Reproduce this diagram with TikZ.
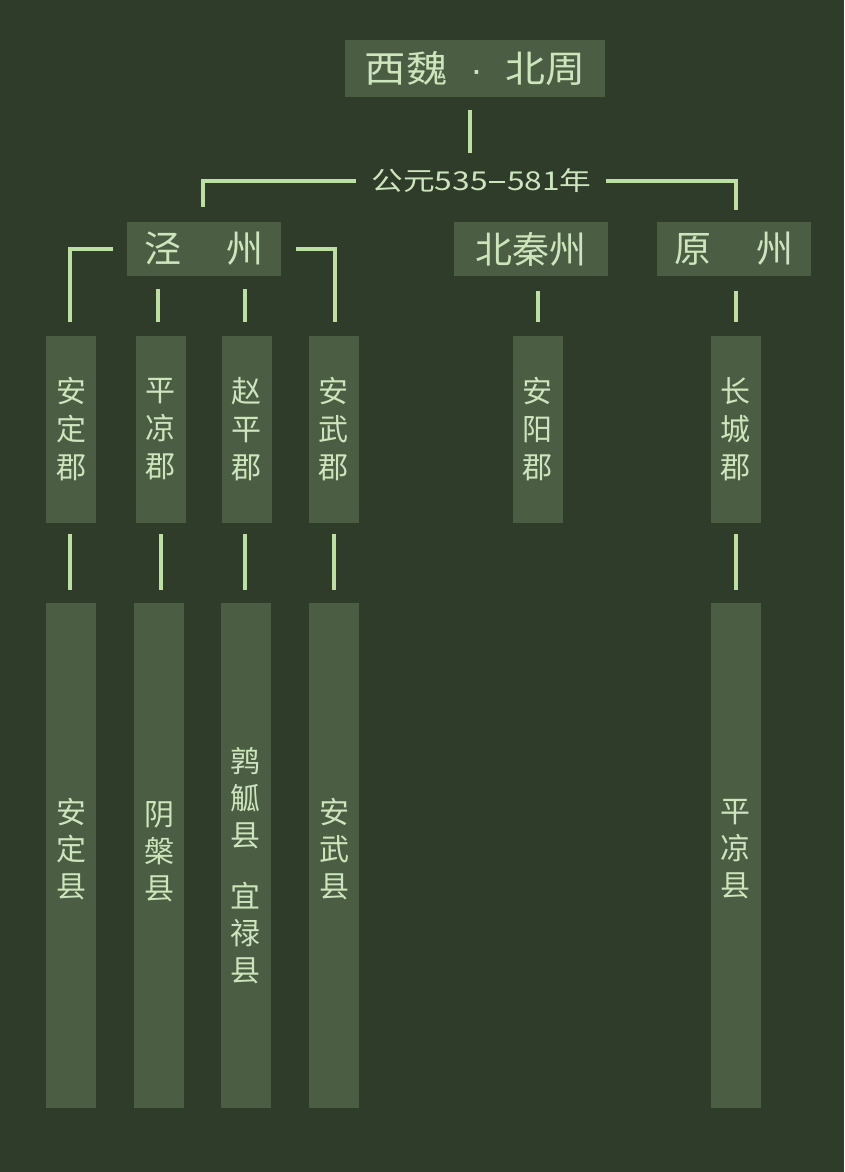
\documentclass[tikz,border=0pt]{standalone}
\usepackage{fontspec}
\setmainfont{Noto Sans CJK SC}
\newfontfamily\latinf{Liberation Sans}
\usetikzlibrary{calc}
\definecolor{bgc}{HTML}{2F3C29}
\definecolor{boxc}{HTML}{4B5D42}
\definecolor{linec}{HTML}{BCDFA4}
\definecolor{txtc}{HTML}{CDE5BC}
\begin{document}
\begin{tikzpicture}[x=1pt,y=-1pt,
  box/.style={fill=boxc, inner sep=0pt, text=txtc, align=center},
  big/.style={box, font=\fontsize{37}{40}\selectfont},
  prov/.style={big, minimum width=154pt, minimum height=54pt},
  jun/.style={box, minimum width=50pt, minimum height=187pt, font=\fontsize{30}{38}\selectfont},
  xian/.style={box, minimum width=50pt, minimum height=505pt},
  xtext/.style={inner sep=0pt, text=txtc, align=center, font=\fontsize{30}{37}\selectfont},
  conn/.style={draw=linec, line width=4pt}]
\fill[bgc] (0,0) rectangle (844,1172);
\useasboundingbox (0,0) rectangle (844,1172);
% top
\node[big, minimum width=260pt, minimum height=57pt] (top) at (475,68.5) {\scalebox{1.12}[1]{西魏}\makebox[58pt]{\latinf ·}\scalebox{1.08}[1]{北周}};
\node[inner sep=0pt, text=txtc, font=\fontsize{26}{28}\selectfont] (date) at (481.5,181) {\scalebox{1.22}[1]{公元535\hspace{1.5pt}\rule[7.5pt]{13pt}{2.4pt}\hspace{1.5pt}581年}};
% provinces
\node[prov] (jing) at (204,249) {泾\hspace{1.2em}州};
\node[prov] (bq) at (531,249) {北秦州};
\node[prov] (yuan) at (734,249) {原\hspace{1.2em}州};
% commanderies
\node[jun] (j1) at (71,429.5) {安\\定\\郡};
\node[jun] (j2) at (160.5,429.5) {平\\凉\\郡};
\node[jun] (j3) at (246.5,429.5) {赵\\平\\郡};
\node[jun] (j4) at (333.5,429.5) {安\\武\\郡};
\node[jun] (j5) at (537.5,429.5) {安\\阳\\郡};
\node[jun] (j6) at (735.5,429.5) {长\\城\\郡};
% counties
\node[xian] (x1) at (71,855.5) {};
\node[xian] (x2) at (159,855.5) {};
\node[xian] (x3) at (245.5,855.5) {};
\node[xian] (x4) at (334,855.5) {};
\node[xian] (x6) at (735.5,855.5) {};
\node[xtext] (x1t) at (71,849.5) {安\\定\\县};
\node[xtext] (x2t) at (159,852) {阴\\槃\\县};
\node[xtext] (x3t) at (245.5,866) {鹑\\觚\\县\\[24pt]宜\\禄\\县};
\node[xtext] (x4t) at (334,849.5) {安\\武\\县};
\node[xtext] (x6t) at (735.5,849.5) {平\\凉\\县};
% connectors
\coordinate (dtop) at (470,153);
\draw[conn, shorten <=13pt] (top.south -| dtop) -- (dtop);
\draw[conn, shorten <=15pt, shorten >=15pt] (date.west) -| ([xshift=-1pt]jing.north);
\draw[conn, shorten <=14pt, shorten >=12pt] (date.east) -| ([xshift=2pt]yuan.north);
\draw[conn, shorten <=14pt, shorten >=14pt] (jing.west) -| ([xshift=-1pt]j1.north);
\draw[conn, shorten <=15pt, shorten >=14pt] (jing.east) -| ([xshift=1.5pt]j4.north);
\draw[conn, shorten <=13pt, shorten >=14pt] ([xshift=-2.5pt]j2.north |- jing.south) -- ([xshift=-2.5pt]j2.north);
\draw[conn, shorten <=13pt, shorten >=14pt] ([xshift=-1.5pt]j3.north |- jing.south) -- ([xshift=-1.5pt]j3.north);
\draw[conn, shorten <=15pt, shorten >=14pt] (j5.north |- bq.south) -- (j5.north);
\draw[conn, shorten <=15pt, shorten >=14pt] (j6.north |- yuan.south) -- (j6.north);
\draw[conn, shorten <=11pt, shorten >=13pt] ([xshift=-1pt]j1.south) -- ([xshift=-1pt]j1.south |- x1.north);
\draw[conn, shorten <=11pt, shorten >=13pt] (j2.south) -- (j2.south |- x2.north);
\draw[conn, shorten <=11pt, shorten >=13pt] ([xshift=-1.5pt]j3.south) -- ([xshift=-1.5pt]j3.south |- x3.north);
\draw[conn, shorten <=11pt, shorten >=13pt] (j4.south) -- (j4.south |- x4.north);
\draw[conn, shorten <=11pt, shorten >=13pt] (j6.south) -- (j6.south |- x6.north);
\end{tikzpicture}
\end{document}
